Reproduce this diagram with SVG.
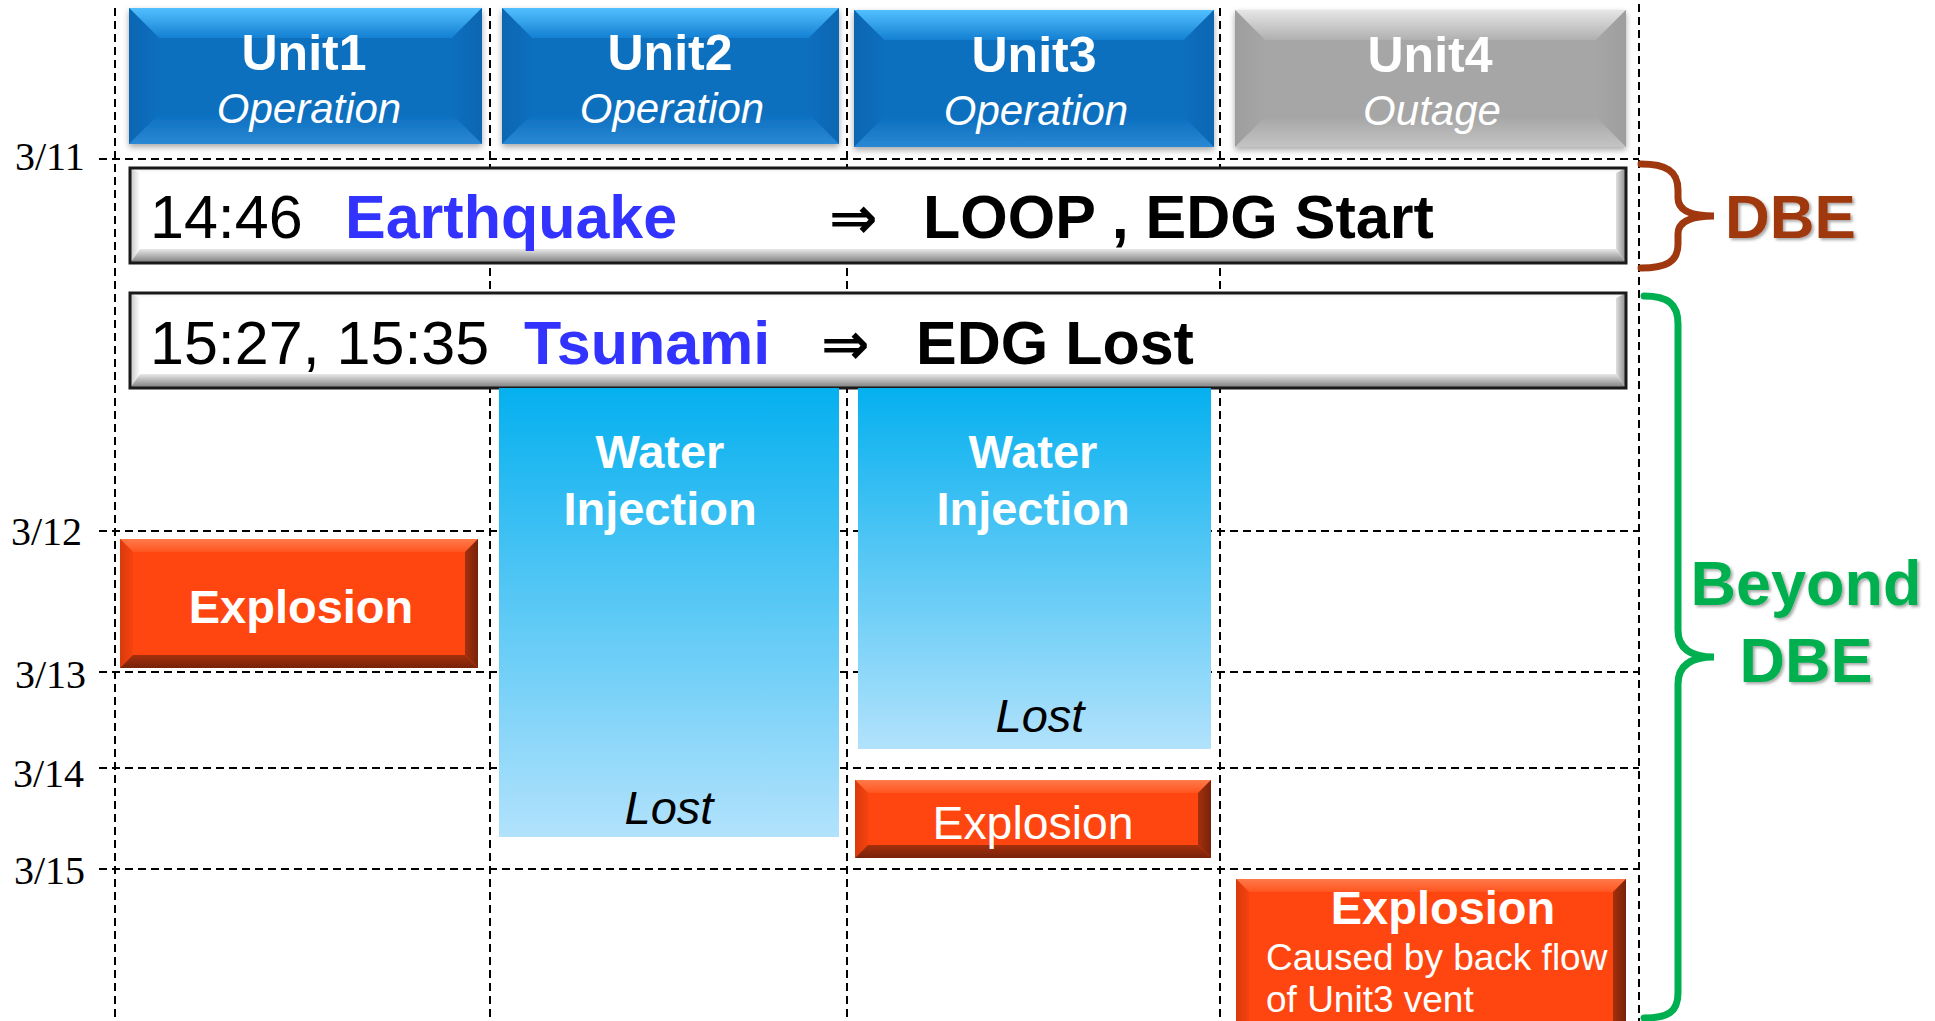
<svg xmlns="http://www.w3.org/2000/svg" width="1935" height="1021" viewBox="0 0 1935 1021">
<defs>
<linearGradient id="uTop" x1="0" y1="0" x2="0" y2="1"><stop offset="0" stop-color="#52C0FF"/><stop offset="1" stop-color="#1480D2"/></linearGradient>
<linearGradient id="uLeft" x1="0" y1="0" x2="1" y2="0"><stop offset="0" stop-color="#0A66B2"/><stop offset="1" stop-color="#0B6FBF"/></linearGradient>
<linearGradient id="uRight" x1="0" y1="0" x2="1" y2="0"><stop offset="0" stop-color="#0B6FBF"/><stop offset="1" stop-color="#0A66B2"/></linearGradient>
<linearGradient id="uBot" x1="0" y1="0" x2="0" y2="1"><stop offset="0" stop-color="#0B6FBF"/><stop offset="1" stop-color="#2A88D4"/></linearGradient>
<linearGradient id="gTop" x1="0" y1="0" x2="0" y2="1"><stop offset="0" stop-color="#E6E6E6"/><stop offset="1" stop-color="#B0B0B0"/></linearGradient>
<linearGradient id="gLeft" x1="0" y1="0" x2="1" y2="0"><stop offset="0" stop-color="#9E9E9E"/><stop offset="1" stop-color="#A6A6A6"/></linearGradient>
<linearGradient id="gRight" x1="0" y1="0" x2="1" y2="0"><stop offset="0" stop-color="#A6A6A6"/><stop offset="1" stop-color="#9E9E9E"/></linearGradient>
<linearGradient id="gBot" x1="0" y1="0" x2="0" y2="1"><stop offset="0" stop-color="#A6A6A6"/><stop offset="1" stop-color="#C4C4C4"/></linearGradient>
<linearGradient id="eTop" x1="0" y1="0" x2="0" y2="1"><stop offset="0" stop-color="#EDEDED"/><stop offset="1" stop-color="#FFFFFF"/></linearGradient>
<linearGradient id="eLeft" x1="0" y1="0" x2="1" y2="0"><stop offset="0" stop-color="#C4C4C4"/><stop offset="1" stop-color="#FFFFFF"/></linearGradient>
<linearGradient id="eRight" x1="0" y1="0" x2="1" y2="0"><stop offset="0" stop-color="#E0E0E0"/><stop offset="1" stop-color="#8A8A8A"/></linearGradient>
<linearGradient id="eBot" x1="0" y1="0" x2="0" y2="1"><stop offset="0" stop-color="#E8E8E8"/><stop offset="1" stop-color="#7A7A7A"/></linearGradient>
<linearGradient id="xTop" x1="0" y1="0" x2="0" y2="1"><stop offset="0" stop-color="#FF7A4A"/><stop offset="1" stop-color="#FF5520"/></linearGradient>
<linearGradient id="xLeft" x1="0" y1="0" x2="1" y2="0"><stop offset="0" stop-color="#D83A0C"/><stop offset="1" stop-color="#F5430F"/></linearGradient>
<linearGradient id="xRight" x1="0" y1="0" x2="1" y2="0"><stop offset="0" stop-color="#A3300D"/><stop offset="1" stop-color="#78220A"/></linearGradient>
<linearGradient id="xBot" x1="0" y1="0" x2="0" y2="1"><stop offset="0" stop-color="#A3300D"/><stop offset="1" stop-color="#78220A"/></linearGradient>
<linearGradient id="water" x1="0" y1="0" x2="0" y2="1"><stop offset="0" stop-color="#05B0EF"/><stop offset="1" stop-color="#B2E2FC"/></linearGradient>
<filter id="sh" x="-5%" y="-10%" width="110%" height="130%"><feDropShadow dx="0" dy="3" stdDeviation="3" flood-color="#000" flood-opacity="0.35"/></filter>
<filter id="tsh" x="-10%" y="-10%" width="130%" height="130%"><feDropShadow dx="2" dy="2" stdDeviation="1.5" flood-color="#000" flood-opacity="0.35"/></filter>
<style>
.grid{stroke:#000;stroke-width:2;stroke-dasharray:8 5;fill:none}
.sans{font-family:"Liberation Sans",Arial,sans-serif}
.date{font-family:"Liberation Serif","Times New Roman",serif;font-size:40px;fill:#000}
.uname{font-family:"Liberation Sans",Arial,sans-serif;font-weight:bold;font-size:50px;fill:#fff;text-anchor:middle}
.ustate{font-family:"Liberation Sans",Arial,sans-serif;font-style:italic;font-size:42px;fill:#fff;text-anchor:middle}
.ev{font-family:"Liberation Sans",Arial,sans-serif;font-size:61px;fill:#000}
.evb{font-weight:bold}
.blue{fill:#3333FF}
.arr{font-family:"DejaVu Sans",sans-serif;font-weight:bold;font-size:58px;fill:#000}
.wt{font-family:"Liberation Sans",Arial,sans-serif;font-weight:bold;font-size:47px;fill:#fff;text-anchor:middle}
.lost{font-family:"Liberation Sans",Arial,sans-serif;font-style:italic;font-size:47px;fill:#000;text-anchor:middle}
.xt{font-family:"Liberation Sans",Arial,sans-serif;font-weight:bold;font-size:47px;fill:#fff;text-anchor:middle}
.face-u{fill:#0B6FBF}
.face-g{fill:#A6A6A6}
.face-x{fill:#FF4510}
</style>
</defs>
<rect width="1935" height="1021" fill="#fff"/>

<g id="grid">
<line class="grid" x1="99" y1="159" x2="1639" y2="159"/>
<line class="grid" x1="99" y1="531" x2="1639" y2="531"/>
<line class="grid" x1="99" y1="672" x2="1639" y2="672"/>
<line class="grid" x1="99" y1="768" x2="1639" y2="768"/>
<line class="grid" x1="99" y1="869" x2="1639" y2="869"/>
<line class="grid" x1="115" y1="8" x2="115" y2="1021"/>
<line class="grid" x1="490" y1="8" x2="490" y2="1021"/>
<line class="grid" x1="847" y1="8" x2="847" y2="1021"/>
<line class="grid" x1="1220" y1="8" x2="1220" y2="1021"/>
<line class="grid" x1="1639" y1="4" x2="1639" y2="1021"/>
</g>

<g id="dates">
<text class="date" x="15" y="170">3/11</text>
<text class="date" x="11" y="545">3/12</text>
<text class="date" x="15" y="688">3/13</text>
<text class="date" x="13" y="787">3/14</text>
<text class="date" x="14" y="884">3/15</text>
</g>

<g id="unit1">
<g filter="url(#sh)">
<rect class="face-u" x="129" y="8" width="353" height="136"/>
<polygon points="129,8 482,8 452,38 159,38" fill="url(#uTop)"/>
<polygon points="129,8 159,38 159,114 129,144" fill="url(#uLeft)"/>
<polygon points="482,8 482,144 452,114 452,38" fill="url(#uRight)"/>
<polygon points="129,144 159,114 452,114 482,144" fill="url(#uBot)"/>
</g>
<text class="uname" x="304" y="70">Unit1</text>
<text class="ustate" x="309" y="123">Operation</text>
</g>

<g id="unit2">
<g filter="url(#sh)">
<rect class="face-u" x="502" y="8" width="337" height="136"/>
<polygon points="502,8 839,8 809,38 532,38" fill="url(#uTop)"/>
<polygon points="502,8 532,38 532,114 502,144" fill="url(#uLeft)"/>
<polygon points="839,8 839,144 809,114 809,38" fill="url(#uRight)"/>
<polygon points="502,144 532,114 809,114 839,144" fill="url(#uBot)"/>
</g>
<text class="uname" x="670" y="70">Unit2</text>
<text class="ustate" x="672" y="123">Operation</text>
</g>

<g id="unit3">
<g filter="url(#sh)">
<rect class="face-u" x="854" y="10" width="360" height="137"/>
<polygon points="854,10 1214,10 1184,40 884,40" fill="url(#uTop)"/>
<polygon points="854,10 884,40 884,117 854,147" fill="url(#uLeft)"/>
<polygon points="1214,10 1214,147 1184,117 1184,40" fill="url(#uRight)"/>
<polygon points="854,147 884,117 1184,117 1214,147" fill="url(#uBot)"/>
</g>
<text class="uname" x="1034" y="72">Unit3</text>
<text class="ustate" x="1036" y="125">Operation</text>
</g>

<g id="unit4">
<g filter="url(#sh)">
<rect class="face-g" x="1235" y="10" width="391" height="137"/>
<polygon points="1235,10 1626,10 1596,40 1265,40" fill="url(#gTop)"/>
<polygon points="1235,10 1265,40 1265,117 1235,147" fill="url(#gLeft)"/>
<polygon points="1626,10 1626,147 1596,117 1596,40" fill="url(#gRight)"/>
<polygon points="1235,147 1265,117 1596,117 1626,147" fill="url(#gBot)"/>
</g>
<text class="uname" x="1430" y="72" fill="#F5F5F5">Unit4</text>
<text class="ustate" x="1432" y="125" fill="#F5F5F5">Outage</text>
</g>

<g id="earthquake">
<rect x="130" y="168" width="1496" height="95" fill="#fff"/>
<polygon points="130,168 1626,168 1616,173 140,173" fill="url(#eTop)"/>
<polygon points="130,168 140,173 140,249 130,263" fill="url(#eLeft)"/>
<polygon points="1626,168 1626,263 1616,249 1616,173" fill="url(#eRight)"/>
<polygon points="130,263 140,249 1616,249 1626,263" fill="url(#eBot)"/>
<rect x="130" y="168" width="1496" height="95" fill="none" stroke="#1A1A1A" stroke-width="3"/>
<text class="ev" x="150" y="238">14:46</text>
<text class="ev evb blue" x="345" y="238">Earthquake</text>
<text class="arr" x="829" y="238">⇒</text>
<text class="ev evb" x="923" y="238">LOOP , EDG Start</text>
</g>

<g id="tsunami">
<rect x="130" y="293" width="1496" height="95" fill="#fff"/>
<polygon points="130,293 1626,293 1616,298 140,298" fill="url(#eTop)"/>
<polygon points="130,293 140,298 140,374 130,388" fill="url(#eLeft)"/>
<polygon points="1626,293 1626,388 1616,374 1616,298" fill="url(#eRight)"/>
<polygon points="130,388 140,374 1616,374 1626,388" fill="url(#eBot)"/>
<rect x="130" y="293" width="1496" height="95" fill="none" stroke="#1A1A1A" stroke-width="3"/>
<text class="ev" x="150" y="364">15:27, 15:35</text>
<text class="ev evb blue" x="524" y="364">Tsunami</text>
<text class="arr" x="821" y="364">⇒</text>
<text class="ev evb" x="916" y="364">EDG Lost</text>
</g>

<g id="water2">
<rect x="499" y="388" width="340" height="449" fill="url(#water)"/>
<text class="wt" x="660" y="468">Water</text>
<text class="wt" x="660" y="525">Injection</text>
<text class="lost" x="669" y="824">Lost</text>
</g>

<g id="water3">
<rect x="858" y="388" width="353" height="361" fill="url(#water)"/>
<text class="wt" x="1033" y="468">Water</text>
<text class="wt" x="1033" y="525">Injection</text>
<text class="lost" x="1040" y="732">Lost</text>
</g>

<g id="explosion1">
<rect class="face-x" x="120" y="539" width="358" height="129"/>
<polygon points="120,539 478,539 465,552 133,552" fill="url(#xTop)"/>
<polygon points="120,539 133,552 133,655 120,668" fill="url(#xLeft)"/>
<polygon points="478,539 478,668 465,655 465,552" fill="url(#xRight)"/>
<polygon points="120,668 133,655 465,655 478,668" fill="url(#xBot)"/>
<text class="xt" x="301" y="623">Explosion</text>
</g>

<g id="explosion3">
<rect class="face-x" x="855" y="780" width="356" height="78"/>
<polygon points="855,780 1211,780 1198,793 868,793" fill="url(#xTop)"/>
<polygon points="855,780 868,793 868,845 855,858" fill="url(#xLeft)"/>
<polygon points="1211,780 1211,858 1198,845 1198,793" fill="url(#xRight)"/>
<polygon points="855,858 868,845 1198,845 1211,858" fill="url(#xBot)"/>
<text class="sans" x="1033" y="839" font-size="46" fill="#fff" text-anchor="middle" textLength="201" lengthAdjust="spacingAndGlyphs">Explosion</text>
</g>

<g id="explosion4">
<rect class="face-x" x="1236" y="879" width="390" height="150"/>
<polygon points="1236,879 1626,879 1613,892 1249,892" fill="url(#xTop)"/>
<polygon points="1236,879 1249,892 1249,1030 1236,1030" fill="url(#xLeft)"/>
<polygon points="1626,879 1626,1030 1613,1030 1613,892" fill="url(#xRight)"/>
<text class="xt" x="1443" y="924">Explosion</text>
<text class="sans" x="1266" y="970" font-size="37" fill="#fff">Caused by back flow</text>
<text class="sans" x="1266" y="1012" font-size="37" fill="#fff">of Unit3 vent</text>
</g>

<g id="braces">
<path d="M1641,164 C1666,164 1678,171 1678,190 L1678,198 C1678,210 1690,216 1714,216 C1690,216 1678,222 1678,234 L1678,244 C1678,262 1666,268 1641,268" fill="none" stroke="#A0380F" stroke-width="7" stroke-linecap="round"/>
<path d="M1644,296 C1668,296 1678,304 1678,324 L1678,630 C1678,648 1690,657 1714,657 C1690,657 1678,666 1678,684 L1678,993 C1678,1012 1668,1018 1644,1018" fill="none" stroke="#00B050" stroke-width="7" stroke-linecap="round"/>
</g>

<g id="labels" filter="url(#tsh)">
<text class="sans" x="1725" y="238" font-size="62" font-weight="bold" fill="#A0380F">DBE</text>
<text class="sans" x="1806" y="605" font-size="63" font-weight="bold" fill="#00B050" text-anchor="middle">Beyond</text>
<text class="sans" x="1806" y="682" font-size="63" font-weight="bold" fill="#00B050" text-anchor="middle">DBE</text>
</g>
</svg>
